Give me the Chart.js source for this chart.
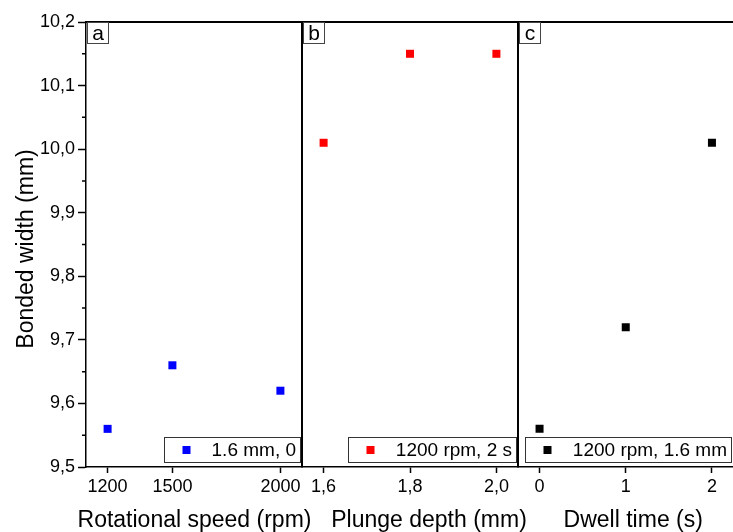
<!DOCTYPE html>
<html>
<head>
<meta charset="utf-8">
<script src="https://cdn.jsdelivr.net/npm/chart.js@4"></script>
<style>
  html, body { margin: 0; padding: 0; background: #fff; }
  #wrap { position: relative; width: 733px; height: 532px; overflow: hidden; }
  #wrap canvas { position: absolute; left: 0; top: 0; }
</style>
</head>
<body>
<div id="wrap">
  <canvas id="panelA" width="733" height="532"></canvas>
  <canvas id="panelB" width="733" height="532"></canvas>
  <canvas id="panelC" width="760" height="532"></canvas>
</div>
<script>
// Bonded width against rotational speed, plunge depth and dwell time
const speedRpm      = [1200, 1500, 2000];
const widthVsSpeed  = [9.56, 9.66, 9.62];
const plungeDepthMm = [1.6, 1.8, 2.0];
const widthVsDepth  = [10.01, 10.15, 10.15];
const dwellTimeS    = [0, 1, 2];
const widthVsDwell  = [9.56, 9.72, 10.01];

const speedTicks = [1200, 1500, 2000];
const depthTicks = [1.6, 1.8, 2.0];
const dwellTicks = [0, 1, 2];
const widthTicks = [9.5, 9.6, 9.7, 9.8, 9.9, 10.0, 10.1, 10.2];
const widthMinorTicks = [9.55, 9.65, 9.75, 9.85, 9.95, 10.05, 10.15];

const FONT = "'Liberation Sans', Arial, Helvetica, sans-serif";
const VIEW_W = 733;
const withComma = (v, digits) => v.toFixed(digits).replace('.', ',');

// Frame, minor ticks, panel letter, inline legend and axis titles
function decoPlugin(cfg) {
  return {
    id: 'panelDeco',
    afterDraw(chart) {
      const ctx = chart.ctx;
      const a = chart.chartArea;
      ctx.save();
      ctx.strokeStyle = '#000';
      ctx.lineWidth = 2;
      ctx.beginPath();
      ctx.moveTo(a.left, a.top);
      ctx.lineTo(a.right + 1, a.top);
      ctx.stroke();
      if (cfg.separator) {
        ctx.beginPath();
        ctx.moveTo(a.left, a.top);
        ctx.lineTo(a.left, a.bottom);
        ctx.stroke();
      }
      if (cfg.showY) {
        const ys = chart.scales.y;
        ctx.lineWidth = 1.5;
        ctx.beginPath();
        widthMinorTicks.forEach(v => {
          const py = ys.getPixelForValue(v);
          ctx.moveTo(a.left - 4, py);
          ctx.lineTo(a.left, py);
        });
        ctx.stroke();
      }

      // panel letter
      ctx.lineWidth = 1;
      ctx.strokeStyle = '#444';
      ctx.strokeRect(a.left + 1.5, a.top + 0.5, 21, 21);
      ctx.fillStyle = '#000';
      ctx.font = '21px ' + FONT;
      ctx.textAlign = 'center';
      ctx.textBaseline = 'alphabetic';
      ctx.fillText(cfg.letter, a.left + 12, a.top + 18);

      // legend box
      const ds = chart.data.datasets[0];
      ctx.font = '19px ' + FONT;
      const tw = ctx.measureText(ds.label).width;
      const boxR = Math.min(Math.round(a.right - 2), VIEW_W - 2) + 0.5;
      const textEnd = boxR - 4.5;
      const textStart = textEnd - tw;
      const boxL = Math.round(textStart - 48) + 0.5;
      const boxT = Math.round(a.bottom - 30) + 0.5;
      const boxB = Math.round(a.bottom - 5) + 0.5;
      ctx.fillStyle = '#fff';
      ctx.fillRect(boxL, boxT, boxR - boxL, boxB - boxT);
      ctx.strokeStyle = '#333';
      ctx.strokeRect(boxL, boxT, boxR - boxL, boxB - boxT);
      ctx.fillStyle = ds.backgroundColor;
      const my = a.bottom - 17;
      ctx.fillRect(boxL + 22 - 4, my - 4, 8, 8);
      ctx.fillStyle = '#000';
      ctx.textAlign = 'left';
      ctx.fillText(ds.label, textStart, a.bottom - 11);

      // x-axis title
      ctx.font = '23px ' + FONT;
      ctx.textAlign = 'center';
      ctx.fillText(cfg.xTitle, (a.left + a.right) / 2 + cfg.titleShift, 527);

      // y-axis title
      if (cfg.yTitle) {
        ctx.save();
        ctx.translate(33, 249);
        ctx.rotate(-Math.PI / 2);
        ctx.fillText(cfg.yTitle, 0, 0);
        ctx.restore();
      }
      ctx.restore();
    }
  };
}

function makePanel(id, cfg) {
  const points = cfg.x.map((x, i) => ({ x: x, y: cfg.y[i] }));
  return new Chart(document.getElementById(id), {
    type: 'scatter',
    data: {
      datasets: [{
        label: cfg.label,
        data: points,
        backgroundColor: cfg.color,
        borderColor: cfg.color,
        pointStyle: 'rect',
        pointRadius: 5.66,
        pointHoverRadius: 5.66,
        borderWidth: 0
      }]
    },
    options: {
      responsive: false,
      animation: false,
      events: [],
      layout: { padding: { left: cfg.padL, right: cfg.padR, top: 22, bottom: 0 } },
      plugins: { legend: { display: false }, tooltip: { enabled: false } },
      scales: {
        x: {
          type: 'linear',
          min: cfg.min,
          max: cfg.max,
          afterBuildTicks: s => { s.ticks = cfg.ticks.map(v => ({ value: v })); },
          afterFit: s => { s.height = 65; },
          grid: { drawOnChartArea: false, drawTicks: true, tickLength: 6, tickWidth: 1.5, tickColor: '#000' },
          border: { display: true, color: '#000', width: 1.5 },
          ticks: {
            padding: 3, color: '#000', maxRotation: 0, autoSkip: false,
            font: { family: FONT, size: 18 },
            callback: v => cfg.fmt(v)
          }
        },
        y: {
          type: 'linear',
          display: cfg.showY,
          min: 9.5,
          max: 10.2,
          afterBuildTicks: s => { s.ticks = widthTicks.map(v => ({ value: v })); },
          afterFit: s => { s.width = cfg.showY ? 86 : 0; },
          grid: { drawOnChartArea: false, drawTicks: true, tickLength: 8, tickWidth: 1.5, tickColor: '#000' },
          border: { display: true, color: '#000', width: 1.5 },
          ticks: {
            padding: 3, color: '#000', autoSkip: false,
            font: { family: FONT, size: 18 },
            callback: v => withComma(v, 1)
          }
        }
      }
    },
    plugins: [decoPlugin(cfg)]
  });
}

makePanel('panelA', {
  x: speedRpm, y: widthVsSpeed, label: '1.6 mm, 0', color: '#0000ff',
  min: 1100, max: 2100, ticks: speedTicks, fmt: v => String(v),
  padL: 0, padR: 431, showY: true, separator: false, letter: 'a',
  xTitle: 'Rotational speed (rpm)', titleShift: 0.5, yTitle: 'Bonded width (mm)'
});
makePanel('panelB', {
  x: plungeDepthMm, y: widthVsDepth, label: '1200 rpm, 2 s', color: '#ff0000',
  min: 1.55, max: 2.05, ticks: depthTicks, fmt: v => withComma(v, 1),
  padL: 302, padR: 215, showY: false, separator: true, letter: 'b',
  xTitle: 'Plunge depth (mm)', titleShift: 19
});
// canvas is wider than the view so the panel runs to the right edge
makePanel('panelC', {
  x: dwellTimeS, y: widthVsDwell, label: '1200 rpm, 1.6 mm', color: '#000000',
  min: -0.25, max: 2.25, ticks: dwellTicks, fmt: v => String(v),
  padL: 518, padR: 760 - VIEW_W - 0.5, showY: false, separator: true, letter: 'c',
  xTitle: 'Dwell time (s)', titleShift: 7.5
});
</script>
</body>
</html>
